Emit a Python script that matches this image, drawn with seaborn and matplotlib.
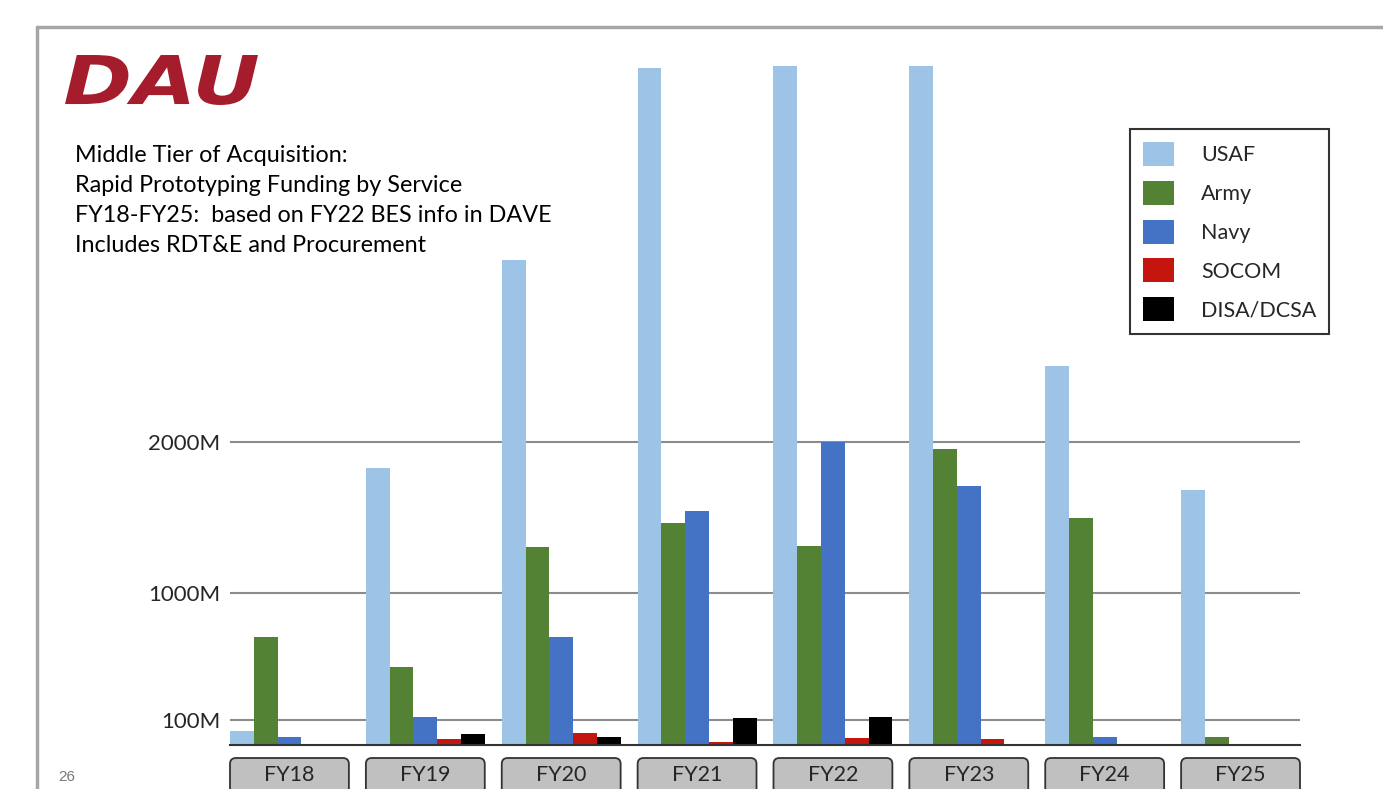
import numpy as np
import pandas as pd
import matplotlib
matplotlib.use('Agg')
import matplotlib.pyplot as plt
import seaborn as sns
from matplotlib.patches import FancyBboxPatch, PathPatch
from matplotlib.lines import Line2D
from matplotlib.textpath import TextPath
from matplotlib.font_manager import FontProperties
from matplotlib.transforms import IdentityTransform, Affine2D

# datos (millones de dolares)
years = ['FY18', 'FY19', 'FY20', 'FY21', 'FY22', 'FY23', 'FY24', 'FY25']
services = ['USAF', 'Army', 'Navy', 'SOCOM', 'DISA/DCSA']
usaf = [56, 1825, 3210, 4480, 4495, 4495, 2505, 1680]
army = [685, 473, 1300, 1460, 1312, 1955, 1495, 32]
navy = [33, 123, 685, 1545, 2000, 1708, 32, 0]
socom = [0, 23, 48, 13, 27, 23, 0, 0]
disa = [0, 43, 32, 114, 121, 0, 0, 0]
colors = ['#9DC3E6', '#548235', '#4472C4', '#C5150F', '#000000']
ytick_vals = [100, 1000, 2000]
ytick_labels = ['100M', '1000M', '2000M']

df = pd.DataFrame({'Year': years * 5,
                   'Service': np.repeat(services, len(years)),
                   'Value': usaf + army + navy + socom + disa})

sns.set_style('white')
plt.rcParams['font.family'] = ['Lato', 'DejaVu Sans']

W, H = 1383, 789
fig = plt.figure(figsize=(W / 100, H / 100), dpi=100)

# escala no lineal del grafico original (tramos)
knots_v = [0, 100, 1000, 2000, 6000]
knots_p = [0, 25, 152.3, 303, 303 + 4000 * 0.1507]
fwd = lambda v: np.interp(v, knots_v, knots_p)
inv = lambda p: np.interp(p, knots_p, knots_v)

ymax = 4600
ax = fig.add_axes([230 / W, 44 / H, 1070 / W, fwd(ymax) / H])
ax.set_yscale('function', functions=(fwd, inv))

sns.barplot(data=df, x='Year', y='Value', hue='Service', palette=colors,
            width=0.875, errorbar=None, linewidth=0, saturation=1,
            legend=True, ax=ax, zorder=3)

ax.set_xlim(-0.4375, len(years) - 1 + 0.4375)
ax.set_ylim(0, ymax)
ax.set_yticks(ytick_vals)
ax.set_yticklabels(ytick_labels)
ax.yaxis.set_minor_locator(matplotlib.ticker.NullLocator())
ax.tick_params(axis='y', length=0, pad=7, labelsize=16)
ax.set_xticks([])
ax.set_xlabel('')
ax.set_ylabel('')
for s in ['top', 'right', 'left']:
    ax.spines[s].set_visible(False)
ax.spines['bottom'].set_color('#333333')
ax.spines['bottom'].set_linewidth(1.5)
ax.spines['bottom'].set_zorder(4)
ax.yaxis.grid(True, color='#8c8c8c', linewidth=1.5, zorder=0)
ax.set_axisbelow(True)

# leyenda
handles, labels = ax.get_legend_handles_labels()
ax.get_legend().remove()
leg = fig.legend(handles, labels, loc='upper left',
                 bbox_to_anchor=(1130 / W, 1 - 129 / H), bbox_transform=fig.transFigure,
                 borderaxespad=0, fontsize=15.5, frameon=True, fancybox=False,
                 edgecolor='black', handlelength=1.45, handleheight=1.35,
                 handletextpad=1.25, labelspacing=0.68, borderpad=0.6)
leg.get_frame().set_linewidth(1.5)

# cajas de los anos
fig.canvas.draw()
for i, yr in enumerate(years):
    x0 = ax.transData.transform((i - 0.4375, 0))[0]
    x1 = ax.transData.transform((i + 0.4375, 0))[0]
    box = FancyBboxPatch((x0, -12), x1 - x0, 43,
                         boxstyle='round,pad=0,rounding_size=6',
                         facecolor='#c0c0c0', edgecolor='#333333', linewidth=1.3,
                         transform=IdentityTransform())
    fig.add_artist(box)
    fig.text((x0 + x1) / 2 / W, 14 / H, yr, ha='center', va='center', fontsize=15.5)

# marco de la diapositiva
fig.add_artist(Line2D([37 / W, 1], [1 - 27 / H, 1 - 27 / H], color='#a6a6a6', lw=2.5))
fig.add_artist(Line2D([37 / W, 37 / W], [1 - 27 / H, 0], color='#a6a6a6', lw=2.5))

# logo DAU (texto estirado a la caja del logo)
fp = FontProperties(family='DejaVu Sans', weight='heavy', style='italic')
tp = TextPath((0, 0), 'DAU', size=100, prop=fp)
ext = tp.get_extents()
lx0, lx1, ly0, ly1 = 65, 258, H - 105, H - 55
tr = (Affine2D().translate(-ext.x0, -ext.y0)
      .scale((lx1 - lx0) / ext.width, (ly1 - ly0) / ext.height)
      .translate(lx0, ly0))
fig.add_artist(PathPatch(tr.transform_path(tp), facecolor='#A51D2D', edgecolor='none',
                         transform=IdentityTransform()))

titulo = ('Middle Tier of Acquisition:\n'
          'Rapid Prototyping Funding by Service\n'
          'FY18-FY25:  based on FY22 BES info in DAVE\n'
          'Includes RDT&E and Procurement')
fig.text(75 / W, 1 - 145 / H, titulo, fontsize=16.8, va='top', ha='left',
         linespacing=1.53, color='black')
fig.text(58 / W, 1 - 777 / H, '26', fontsize=11, color='#777777',
         family='Liberation Sans', va='center')

plt.savefig('out.png', dpi=100)
